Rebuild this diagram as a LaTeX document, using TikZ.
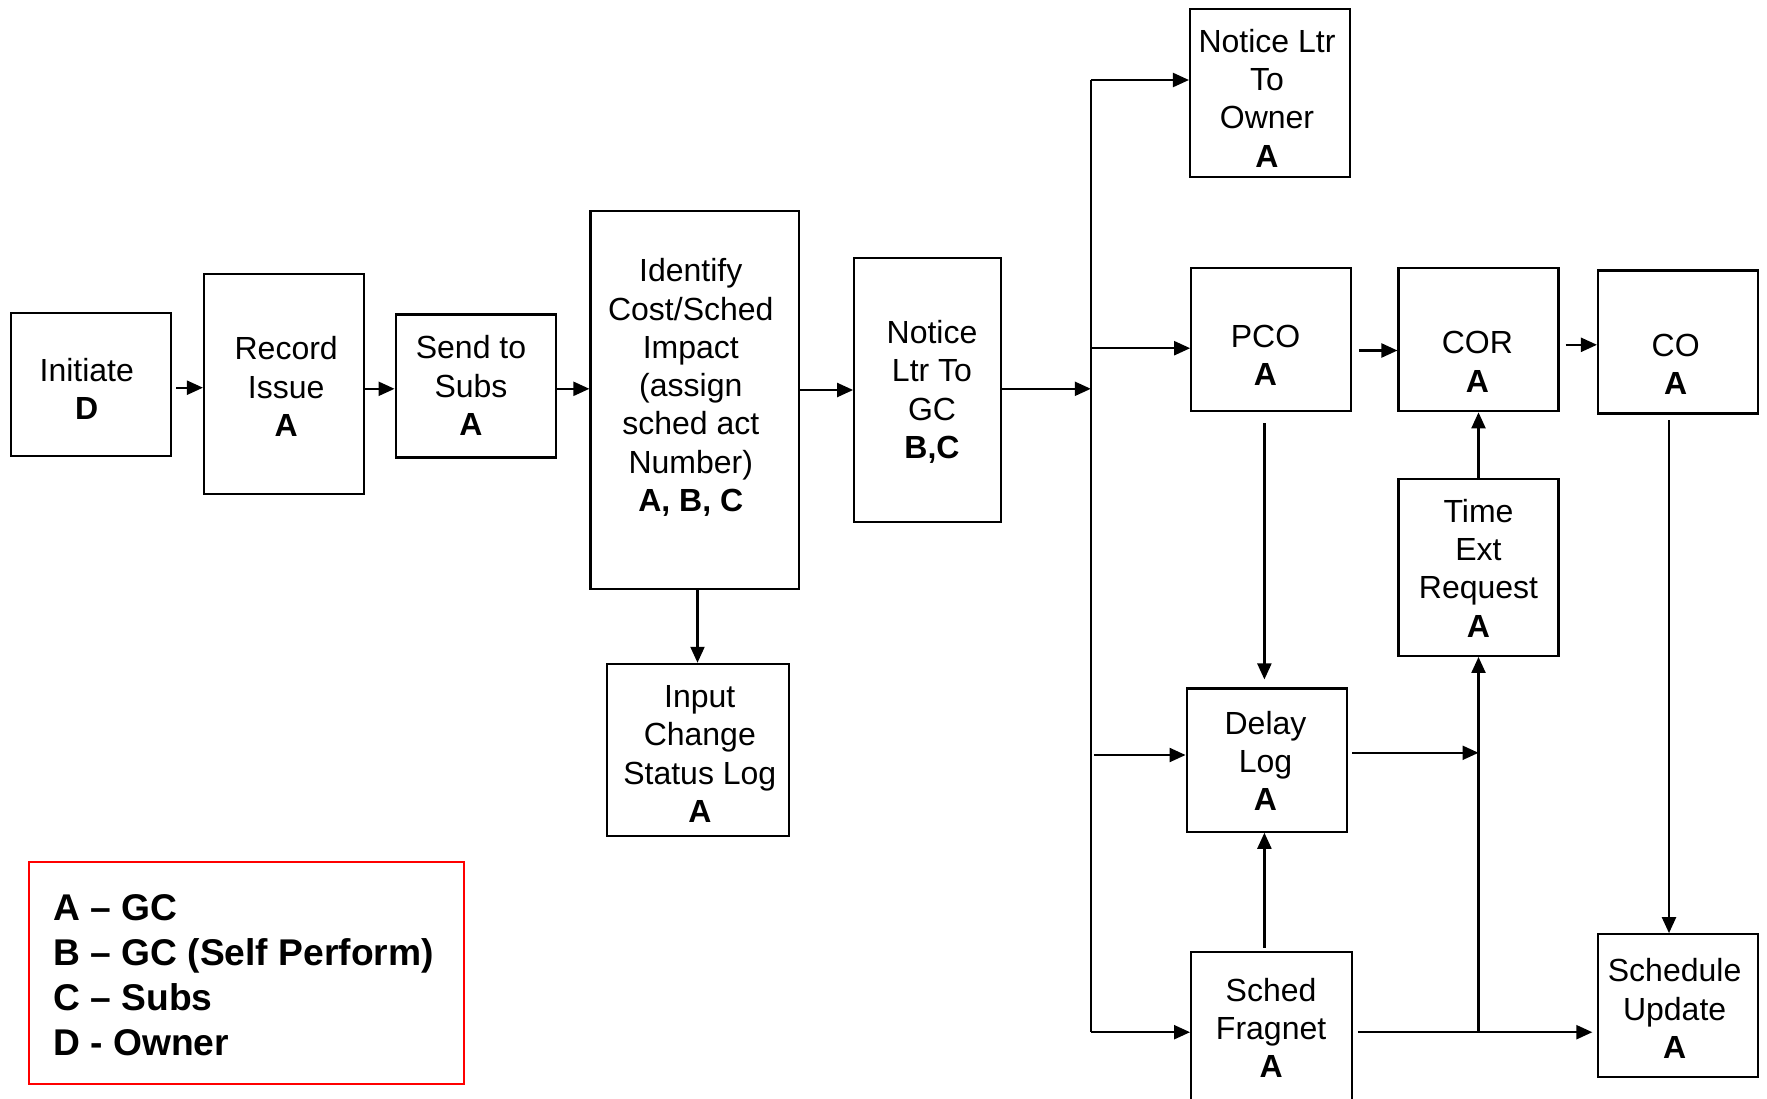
\documentclass[tikz,border=0pt]{standalone}
\usepackage{fontspec}
\setmainfont{Liberation Sans}
\usetikzlibrary{arrows.meta}
\begin{document}
\begin{tikzpicture}[x=0.5pt,y=-0.5pt,
  box/.style={draw=black, line width=1.05pt, inner sep=0pt},
  txt/.style={align=center, font=\fontsize{16}{19.15}\selectfont, inner sep=0pt},
  arr/.style={line width=1.1pt, -{Triangle[length=8pt,width=7pt]}},
  ln/.style={line width=1.1pt}]
\useasboundingbox (0,0) rectangle (1767,1098);

% boxes
\node[box, minimum width=80pt, minimum height=71.5pt] (init) at (91.3,384.9) {};
\node[txt] (tinit) at (86.8,388.8) {Initiate\\\textbf{D}};
\node[box, minimum width=80pt, minimum height=110pt] (rec) at (284,383.7) {};
\node[txt] (trec) at (286.2,386.5) {Record\\Issue\\\textbf{A}};
\node[box, minimum width=80pt, minimum height=71.5pt] (send) at (475.6,386) {};
\node[txt] (tsend) at (471,385.4) {Send to\\Subs\\\textbf{A}};
\node[box, minimum width=104.25pt, minimum height=189.4pt] (ident) at (694.7,400) {};
\node[txt] (tident) at (690.8,387.5) {Identify\\Cost/Sched\\Impact\\(assign\\sched act\\Number)\\\textbf{A, B, C}};
\node[box, minimum width=73.25pt, minimum height=131.9pt] (gc) at (927.4,390) {};
\node[txt] (tgc) at (932,392) {Notice\\Ltr To\\GC\\\textbf{B,C}};
\node[box, minimum width=90.7pt, minimum height=86.2pt] (input) at (698.1,750) {};
\node[txt] (tinput) at (699.8,754) {Input\\Change\\Status Log\\\textbf{A}};
\node[box, minimum width=80pt, minimum height=84pt] (owner) at (1270,93) {};
\node[txt] (towner) at (1267,98) {Notice Ltr\\To\\Owner\\\textbf{A}};
\node[box, minimum width=80pt, minimum height=71.5pt] (pco) at (1271.2,339.8) {};
\node[txt] (tpco) at (1265.5,355) {PCO\\\textbf{A}};
\node[box, minimum width=80pt, minimum height=71.5pt] (cor) at (1478.5,339.8) {};
\node[txt] (tcor) at (1477.4,361.7) {COR\\\textbf{A}};
\node[box, minimum width=80pt, minimum height=71.5pt] (co) at (1678,342) {};
\node[txt] (tco) at (1675.7,364) {CO\\\textbf{A}};
\node[box, minimum width=80pt, minimum height=88.5pt] (tex) at (1478.5,567.4) {};
\node[txt] (ttex) at (1478.5,568) {Time\\Ext\\Request\\\textbf{A}};
\node[box, minimum width=80pt, minimum height=71.6pt] (delay) at (1266.6,760.1) {};
\node[txt] (tdelay) at (1265.5,760.7) {Delay\\Log\\\textbf{A}};
\node[box, minimum width=80.6pt, minimum height=80pt] (frag) at (1271.7,1032) {};
\node[txt] (tfrag) at (1271.1,1027.7) {Sched\\Fragnet\\\textbf{A}};
\node[box, minimum width=80pt, minimum height=71.6pt] (sched) at (1678,1005.8) {};
\node[txt] (tsched) at (1674.6,1008.6) {Schedule\\Update\\\textbf{A}};

% legend
\node[draw=red, line width=1pt, minimum width=217.5pt, minimum height=111pt, inner sep=0pt] (legend) at (246.8,973.1) {};
\node[anchor=west, align=left, inner sep=0pt, font=\bfseries\fontsize{18.6}{22.5}\selectfont] (tlegend) at (53,974.8)
  {A – GC\\B – GC (Self Perform)\\C – Subs\\D - Owner};

% main chain
\draw[arr, shorten <=2pt] (init.east |- 0,387.7) -- (rec.west |- 0,387.7);
\draw[arr] (rec.east |- 0,388.8) -- (send.west |- 0,388.8);
\draw[arr] (send.east |- 0,388.8) -- (ident.west |- 0,388.8);
\draw[arr] (ident.east |- 0,390) -- (gc.west |- 0,390);
\draw[arr] (ident.south -| 697.5,0) -- (input.north -| 697.5,0);

% bus
\coordinate (bt) at (1090.8,80);
\coordinate (bb) at (1090.8,1032.2);
\draw[ln] (bt) -- (bb);
\draw[arr] (gc.east |- 0,388.8) -- (bt |- 0,388.8);
\draw[arr] (bt) -- (owner.west |- bt);
\draw[arr] (bt |- 0,348.2) -- (pco.west |- 0,348.2);
\draw[arr, shorten <=1.5pt] (bt |- 0,755) -- (delay.west |- 0,755);
\draw[arr] (bb) -- (frag.west |- bb);

% right part
\draw[arr, shorten <=3.5pt] (pco.east |- 0,350.5) -- (cor.west |- 0,350.5);
\draw[arr, shorten <=3pt] (cor.east |- 0,344.8) -- (co.west |- 0,344.8);
\draw[arr, shorten <=5.5pt, shorten >=4pt] (pco.south -| 1264.4,0) -- (delay.north -| 1264.4,0);
\draw[arr] (tex.north) -- (cor.south);
\coordinate (j) at (1478.5,1032.2);
\draw[arr, shorten <=2.25pt] (delay.east |- 0,752.8) -- (j |- 0,752.8);
\draw[arr] (j) -- (tex.south);
\draw[arr, shorten <=2.25pt, shorten >=2.3pt] (frag.east |- j) -- (sched.west |- j);
\draw[arr, shorten <=1.7pt] (frag.north -| 1264.4,0) -- (delay.south -| 1264.4,0);
\draw[arr, shorten <=2.8pt] (co.south -| 1669,0) -- (sched.north -| 1669,0);
\end{tikzpicture}
\end{document}
